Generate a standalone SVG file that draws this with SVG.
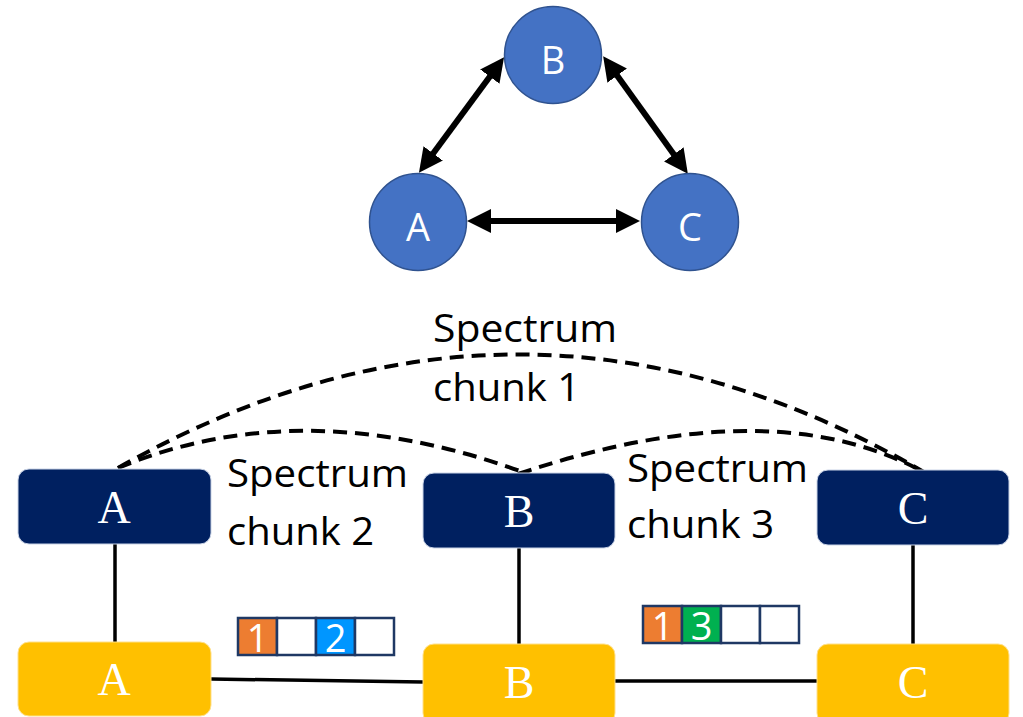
<svg xmlns="http://www.w3.org/2000/svg" width="1023" height="717" viewBox="0 0 1023 717">
<style>
.circ{fill:#4472C4;stroke:#2F528F;stroke-width:1.5}
.ctext{font-family:"Open Sans","Liberation Sans",sans-serif;font-size:38px;fill:#fff;text-anchor:middle}
.navy{fill:#002060;stroke:#C9D3E6;stroke-width:1}
.gold{fill:#FFC000;stroke:#FFE08A;stroke-width:1}
.btext{font-family:"Liberation Serif",serif;font-size:46px;fill:#fff;text-anchor:middle}
.lbl{font-family:"Open Sans","Liberation Sans",sans-serif;font-size:38px;fill:#000}
.arr{stroke:#000;stroke-width:6;fill:none;marker-start:url(#ah);marker-end:url(#ah)}
.dash{stroke:#000;stroke-width:4;fill:none;stroke-dasharray:14 8}
.solid{stroke:#000;stroke-width:3.5;fill:none}
.cell{stroke:#1F3864;stroke-width:2.5;fill:#fff}
.dig{font-family:"Open Sans","Liberation Sans",sans-serif;font-size:38px;fill:#fff;text-anchor:middle}
</style>
<defs>
<marker id="ah" viewBox="0 0 24 24" refX="2" refY="12" markerWidth="24" markerHeight="24" markerUnits="userSpaceOnUse" orient="auto-start-reverse">
<path d="M0,0 L24,12 L0,24 Z" fill="#000"/>
</marker>
</defs>
<g id="connectors">
<line class="arr" x1="489" y1="221" x2="618" y2="221"/>
<line class="arr" x1="432" y1="155" x2="491" y2="75"/>
<line class="arr" x1="616" y1="74" x2="675" y2="156"/>
<path class="dash" d="M118,468 Q528,236 934,478"/>
<path class="dash" d="M118,468 Q310,388 544,480"/>
<path class="dash" d="M518,474 Q780,386 934,478"/>
<line class="solid" x1="115" y1="544" x2="115" y2="642"/>
<line class="solid" x1="519" y1="548" x2="519" y2="644"/>
<line class="solid" x1="913" y1="545" x2="913" y2="644"/>
<line class="solid" x1="211" y1="679" x2="423" y2="682"/>
<line class="solid" x1="615" y1="681" x2="817" y2="681"/>
</g>
<g id="topA"><circle class="circ" cx="418" cy="222" r="48.5"/><text class="ctext" x="418" y="241">A</text></g>
<g id="topB"><circle class="circ" cx="553" cy="55" r="48.5"/><text class="ctext" x="553" y="74">B</text></g>
<g id="topC"><circle class="circ" cx="690" cy="222" r="48.5"/><text class="ctext" x="690" y="241">C</text></g>
<g id="label1"><text class="lbl" x="433" y="342" textLength="184" lengthAdjust="spacingAndGlyphs">Spectrum</text><text class="lbl" x="433" y="401" textLength="147" lengthAdjust="spacingAndGlyphs">chunk 1</text></g>
<g id="label2"><text class="lbl" x="227" y="487" textLength="181" lengthAdjust="spacingAndGlyphs">Spectrum</text><text class="lbl" x="227" y="545" textLength="147" lengthAdjust="spacingAndGlyphs">chunk 2</text></g>
<g id="label3"><text class="lbl" x="627" y="482" textLength="181" lengthAdjust="spacingAndGlyphs">Spectrum</text><text class="lbl" x="627" y="538" textLength="147" lengthAdjust="spacingAndGlyphs">chunk 3</text></g>
<g id="navyA"><rect class="navy" x="18" y="469" width="193" height="75" rx="11"/><text class="btext" x="114" y="523">A</text></g>
<g id="navyB"><rect class="navy" x="423" y="473" width="192" height="75" rx="11"/><text class="btext" x="519" y="527">B</text></g>
<g id="navyC"><rect class="navy" x="817" y="470" width="192" height="75" rx="11"/><text class="btext" x="913" y="524">C</text></g>
<g id="goldA"><rect class="gold" x="18" y="642" width="193" height="74" rx="11"/><text class="btext" x="114" y="695">A</text></g>
<g id="goldB"><rect class="gold" x="423" y="644" width="192" height="80" rx="11"/><text class="btext" x="519" y="698">B</text></g>
<g id="goldC"><rect class="gold" x="817" y="644" width="192" height="80" rx="11"/><text class="btext" x="913" y="698">C</text></g>
<g id="buf1">
<rect class="cell" x="238" y="618" width="39" height="37" style="fill:#ED7D31"/>
<rect class="cell" x="277" y="618" width="39" height="37"/>
<rect class="cell" x="316" y="618" width="39" height="37" style="fill:#0096FF"/>
<rect class="cell" x="355" y="618" width="39" height="37"/>
<text class="dig" x="257.5" y="652">1</text>
<text class="dig" x="335.5" y="652">2</text>
</g>
<g id="buf2">
<rect class="cell" x="643" y="606" width="39" height="37" style="fill:#ED7D31"/>
<rect class="cell" x="682" y="606" width="39" height="37" style="fill:#00B050"/>
<rect class="cell" x="721" y="606" width="39" height="37"/>
<rect class="cell" x="760" y="606" width="39" height="37"/>
<text class="dig" x="662.5" y="640">1</text>
<text class="dig" x="701.5" y="640">3</text>
</g>
</svg>
